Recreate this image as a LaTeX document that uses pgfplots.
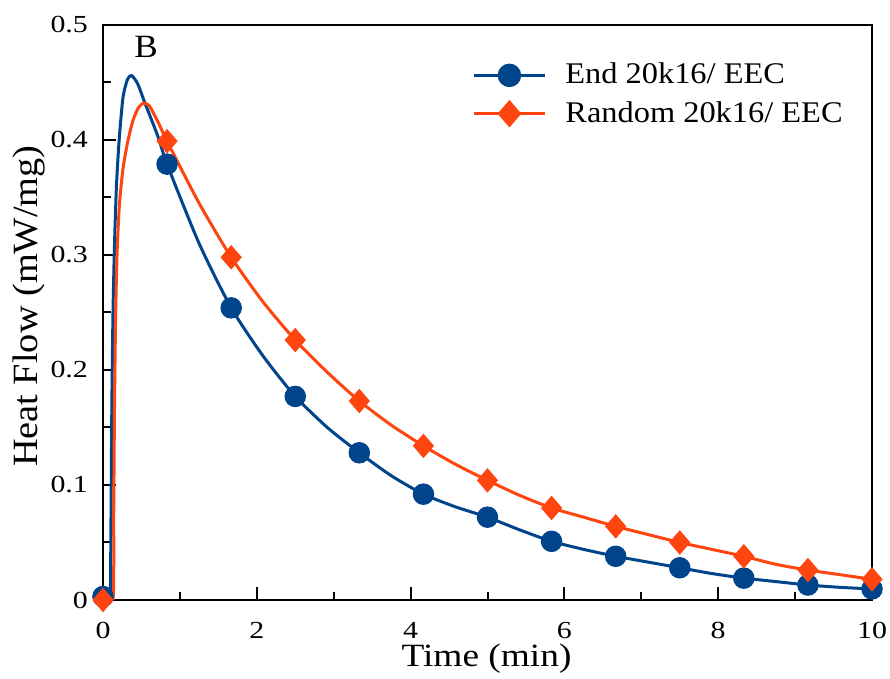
\documentclass[border=0pt]{standalone}
\usepackage{fontspec}
\setmainfont{Liberation Serif}
\newfontfamily\fA{Liberation Serif}[FakeStretch=1.22]
\newfontfamily\fB{Liberation Serif}[FakeStretch=1.08]
\newfontfamily\fC{Liberation Serif}[FakeStretch=1.15]
\usepackage{pgfplots}
\pgfplotsset{compat=1.18}
\definecolor{cblue}{RGB}{0,68,140}
\definecolor{corange}{RGB}{255,69,15}

\pgfplotstableread{
x y
0 0.006
0.08 0.001
0.095 0.0
0.105 0.08
0.115 0.17
0.13 0.25
0.15 0.31
0.175 0.36
0.21 0.40
0.26 0.437
0.32 0.453
0.373 0.456
0.45 0.449
0.546 0.432
0.715 0.403
0.833 0.379
1.25 0.310
1.667 0.254
2.083 0.212
2.5 0.177
2.917 0.150
3.333 0.128
3.75 0.108
4.167 0.092
4.583 0.081
5.0 0.072
5.417 0.061
5.833 0.051
6.25 0.044
6.667 0.038
7.083 0.033
7.5 0.028
7.917 0.023
8.333 0.019
8.75 0.016
9.167 0.013
9.583 0.011
10.0 0.0096
}\bluecurve

\pgfplotstableread{
x y
0 0.003
0.833 0.379
1.667 0.254
2.5 0.177
3.333 0.128
4.167 0.092
5.0 0.072
5.833 0.051
6.667 0.038
7.5 0.028
8.333 0.019
9.167 0.013
10.0 0.0096
}\bluemarks

\pgfplotstableread{
x y
0 0.0
0.13 0.0
0.14 0.08
0.15 0.17
0.165 0.25
0.185 0.305
0.215 0.345
0.26 0.375
0.32 0.398
0.39 0.417
0.46 0.428
0.524 0.432
0.6 0.430
0.72 0.415
0.833 0.399
1.25 0.345
1.667 0.298
2.083 0.259
2.5 0.226
2.917 0.198
3.333 0.173
3.75 0.152
4.167 0.134
4.583 0.118
5.0 0.104
5.417 0.091
5.833 0.080
6.25 0.072
6.667 0.064
7.083 0.057
7.5 0.050
7.917 0.044
8.333 0.038
8.75 0.031
9.167 0.026
9.583 0.022
10.0 0.018
}\redcurve

\pgfplotstableread{
x y
0 0.0
0.833 0.399
1.667 0.298
2.5 0.226
3.333 0.173
4.167 0.134
5.0 0.104
5.833 0.080
6.667 0.064
7.5 0.050
8.333 0.038
9.167 0.026
10.0 0.018
}\redmarks

\begin{document}
\begin{tikzpicture}
\begin{axis}[
  scale only axis,
  width=307.6pt, height=230pt,
  xmin=0, xmax=10, ymin=0, ymax=0.5,
  xtick={0,2,4,6,8,10},
  ytick={0,0.1,0.2,0.3,0.4,0.5},
  minor x tick num=1, minor y tick num=1,
  tick align=inside,
  xtick pos=left, ytick pos=left,
  major tick length=5.2pt, minor tick length=3.2pt,
  every tick/.style={black, line width=0.8pt},
  axis line style={line width=0.8pt},
  /pgf/number format/assume math mode=true,
  /pgf/number format/fixed,
  yticklabel style={/pgf/number format/precision=1},
  tick label style={font=\fA\fontsize{9.8}{11}\selectfont},
  xticklabel style={yshift=-5.4pt},
  yticklabel style={xshift=-2.5pt},
  xlabel={Time (min)},
  ylabel={Heat Flow (mW/mg)},
  xlabel style={font=\fC\fontsize{13}{15}\selectfont, at={(axis description cs:0.4987,-0.116)}, anchor=base},
  ylabel style={font=\fB\fontsize{14.2}{16}\selectfont, at={(axis description cs:-0.0858,0.511)}, anchor=base},
  legend style={draw=none, fill=none, at={(axis description cs:0.47,0.952)}, anchor=north west,
    font=\fB\fontsize{12}{15}\selectfont, row sep=1.5pt, cells={anchor=west}},
  legend image code/.code={\draw[mark repeat=2,mark phase=2] plot coordinates {(0pt,0pt) (14.2pt,0pt) (28.4pt,0pt)}; \path (34pt,0pt);},
  clip=true,
]
\addlegendimage{cblue, line width=1.2pt, mark=*, mark size=4.1pt, mark options={solid}}
\addlegendentry{End 20k16/ EEC}
\addlegendimage{corange, line width=1.2pt, mark=diamond*, mark size=4.6pt, mark options={solid, xscale=1.15}}
\addlegendentry{Random 20k16/ EEC}
\addplot[cblue, line width=1.2pt, smooth, tension=0.4, forget plot] table[x=x,y=y] {\bluecurve};
\addplot[cblue, only marks, mark=*, mark size=4.1pt, forget plot] table[x=x,y=y] {\bluemarks};
\addplot[corange, line width=1.2pt, smooth, tension=0.4, forget plot] table[x=x,y=y] {\redcurve};
\addplot[corange, only marks, mark=diamond*, mark size=4.6pt, mark options={xscale=1.15}, forget plot] table[x=x,y=y] {\redmarks};
\node[font=\fB\fontsize{13}{16}\selectfont] at (axis description cs:0.056,0.962) {B};
\end{axis}
\pgfresetboundingbox
\path ([shift={(-41.2pt,-31.6pt)}]current axis.south west) rectangle ([shift={(7.2pt,10pt)}]current axis.north east);
\end{tikzpicture}
\end{document}
